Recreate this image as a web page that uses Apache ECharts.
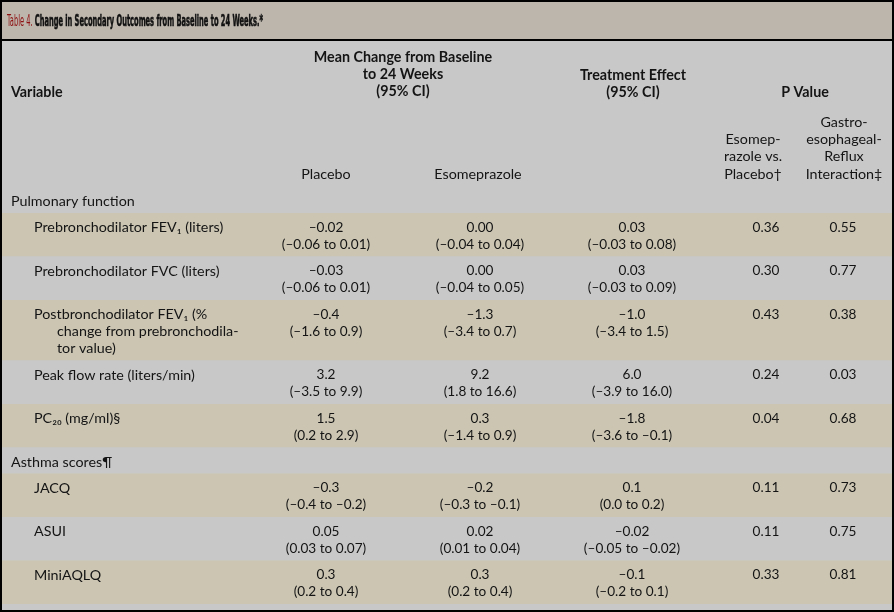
<!DOCTYPE html>
<html>
<head>
<meta charset="utf-8">
<script src="https://cdn.jsdelivr.net/npm/echarts@6/dist/echarts.min.js"></script>
<style>
html, body { margin: 0; padding: 0; background: #fff; }
#main { width: 894px; height: 612px; }
</style>
</head>
<body>
<div id="main"></div>
<script>
// table content
var variables = [
    'Pulmonary function',
    'Prebronchodilator FEV\u2081 (liters)',
    'Prebronchodilator FVC (liters)',
    'Postbronchodilator FEV\u2081 (%\nchange from prebronchodila-\ntor value)',
    'Peak flow rate (liters/min)',
    'PC\u2082\u2080 (mg/ml)\u00a7',
    'Asthma scores\u00b6',
    'JACQ',
    'ASUI',
    'MiniAQLQ'
];
var isSection = [true, false, false, false, false, false, true, false, false, false];
var decimals = [0, 2, 2, 1, 1, 1, 0, 1, 2, 1];

var placeboMean = [null, -0.02, -0.03, -0.4, 3.2, 1.5, null, -0.3, 0.05, 0.3];
var placeboLow  = [null, -0.06, -0.06, -1.6, -3.5, 0.2, null, -0.4, 0.03, 0.2];
var placeboHigh = [null, 0.01, 0.01, 0.9, 9.9, 2.9, null, -0.2, 0.07, 0.4];

var esoMean = [null, 0.00, 0.00, -1.3, 9.2, 0.3, null, -0.2, 0.02, 0.3];
var esoLow  = [null, -0.04, -0.04, -3.4, 1.8, -1.4, null, -0.3, 0.01, 0.2];
var esoHigh = [null, 0.04, 0.05, 0.7, 16.6, 0.9, null, -0.1, 0.04, 0.4];

var effectMean = [null, 0.03, 0.03, -1.0, 6.0, -1.8, null, 0.1, -0.02, -0.1];
var effectLow  = [null, -0.03, -0.03, -3.4, -3.9, -3.6, null, 0.0, -0.05, -0.2];
var effectHigh = [null, 0.08, 0.09, 1.5, 16.0, -0.1, null, 0.2, -0.02, 0.1];

var pEsoVsPlacebo = [null, 0.36, 0.30, 0.43, 0.24, 0.04, null, 0.11, 0.11, 0.33];
var pInteraction  = [null, 0.55, 0.77, 0.38, 0.03, 0.68, null, 0.73, 0.75, 0.81];

var W = 894, H = 612;
var LABEL = '14.3px Lato, "DejaVu Sans", sans-serif';
var BODY = '13.6px Lato, "DejaVu Sans", sans-serif';
var BOLD = 'bold 14.3px Lato, "DejaVu Sans", sans-serif';
var INK = '#141414';
var GREY = '#c8c8c8', TAN = '#cbc5b2';
var colX = [326, 480, 632, 766, 843];

function fmt(v, d) {
    return (v < 0 ? '\u2013' : '') + Math.abs(v).toFixed(d);
}

// row tops from line counts
var rowTop = [], rowH = [];
var y0 = 187;
variables.forEach(function (v, i) {
    var lines = v.split('\n').length;
    var h = isSection[i] ? 26 : 9.5 + 17 * Math.max(2, lines);
    rowTop.push(y0);
    rowH.push(h);
    y0 += h;
});

function txt(s, x, y, font, align, fill) {
    return {
        type: 'text',
        style: {
            text: s, x: x, y: y, font: font, fill: fill || INK,
            align: align, textAlign: align,
            verticalAlign: 'middle', textVerticalAlign: 'middle'
        }
    };
}

function renderRow(params, api) {
    var i = api.value(0);
    var top = rowTop[i], h = rowH[i];
    var p0 = api.coord([0, top]);
    var p1 = api.coord([W, top + h]);
    var kids = [{
        type: 'rect',
        shape: { x: p0[0], y: p0[1], width: p1[0] - p0[0], height: p1[1] - p0[1] },
        style: { fill: i % 2 ? TAN : GREY }
    }];
    var l1 = api.coord([0, top + 14.5])[1];
    var l2 = l1 + 17;
    if (isSection[i]) {
        kids.push(txt(variables[i], 11, l1, LABEL, 'left'));
        return { type: 'group', children: kids };
    }
    variables[i].split('\n').forEach(function (s, k) {
        kids.push(txt(s, k ? 57 : 34, l1 + 17 * k, LABEL, 'left'));
    });
    var d = decimals[i];
    var groups = [
        [placeboMean, placeboLow, placeboHigh],
        [esoMean, esoLow, esoHigh],
        [effectMean, effectLow, effectHigh]
    ];
    groups.forEach(function (g, c) {
        kids.push(txt(fmt(g[0][i], d), colX[c], l1, BODY, 'center'));
        kids.push(txt('(' + fmt(g[1][i], d) + ' to ' + fmt(g[2][i], d) + ')', colX[c], l2, BODY, 'center'));
    });
    kids.push(txt(pEsoVsPlacebo[i].toFixed(2), colX[3], l1, BODY, 'center'));
    kids.push(txt(pInteraction[i].toFixed(2), colX[4], l1, BODY, 'center'));
    return { type: 'group', children: kids };
}

// title: condensed font squeezed sideways to the reference width
var TFONT_R = '16px "DejaVu Sans Condensed", sans-serif';
var TFONT_B = 'bold 16px "DejaVu Sans Condensed", sans-serif';
var ctx = document.createElement('canvas').getContext('2d');
ctx.font = TFONT_R;
var w1 = ctx.measureText('Table 4. ').width;
ctx.font = TFONT_B;
var w2 = ctx.measureText('Change in Secondary Outcomes from Baseline to 24 Weeks.*').width;
var squeeze = 256 / (w1 + w2);

function multi(lines, x, yFirst, font, step) {
    return lines.map(function (s, k) { return txt(s, x, yFirst + step * k, font, 'center'); });
}

var titleRed = txt('Table 4. ', 0, 0, TFONT_R, 'left', '#8e1010');
var titleBlack = txt('Change in Secondary Outcomes from Baseline to 24 Weeks.*', w1, 0, TFONT_B, 'left', '#111');
titleBlack.style.stroke = '#111';
titleBlack.style.lineWidth = 0.6;

var graphics = [
    { type: 'rect', shape: { x: 0, y: 0, width: W, height: 40 }, style: { fill: '#bdb6ad' }, z: -2 },
    { type: 'rect', shape: { x: 0, y: 40, width: W, height: H - 40 }, style: { fill: GREY }, z: -2 },
    {
        type: 'group', x: 7, y: 22, scaleX: squeeze, scaleY: 1, scale: [squeeze, 1],
        children: [titleRed, titleBlack]
    },
    txt('Variable', 11, 92, BOLD, 'left'),
    txt('P Value', 805, 92, BOLD, 'center'),
    txt('Placebo', colX[0], 174, LABEL, 'center'),
    txt('Esomeprazole', colX[1] - 2, 174, LABEL, 'center')
]
    .concat(multi(['Mean Change from Baseline', 'to 24 Weeks', '(95% CI)'], 403, 57, BOLD, 17))
    .concat(multi(['Treatment Effect', '(95% CI)'], 633, 75, BOLD, 17))
    .concat(multi(['Esomep-', 'razole vs.', 'Placebo\u2020'], 753, 139.5, LABEL, 17.3))
    .concat(multi(['Gastro-', 'esophageal-', 'Reflux', 'Interaction\u2021'], 844, 122, LABEL, 17.3))
    .concat([
        { type: 'line', shape: { x1: 0, y1: 40, x2: W, y2: 40 }, style: { stroke: '#000', lineWidth: 2 }, z: 10 },
        { type: 'rect', shape: { x: 1, y: 1, width: W - 2, height: H - 2 }, style: { fill: null, stroke: '#000', lineWidth: 2 }, z: 10 }
    ]);

var chart = echarts.init(document.getElementById('main'));
chart.setOption({
    animation: false,
    grid: { left: 0, right: 0, top: 0, bottom: 0 },
    xAxis: { type: 'value', min: 0, max: W, show: false },
    yAxis: { type: 'value', min: 0, max: H, inverse: true, show: false },
    graphic: graphics,
    series: [{
        type: 'custom',
        silent: true,
        renderItem: renderRow,
        encode: { x: 0, y: 0 },
        data: variables.map(function (v, i) { return [i]; })
    }]
});
</script>
</body>
</html>
